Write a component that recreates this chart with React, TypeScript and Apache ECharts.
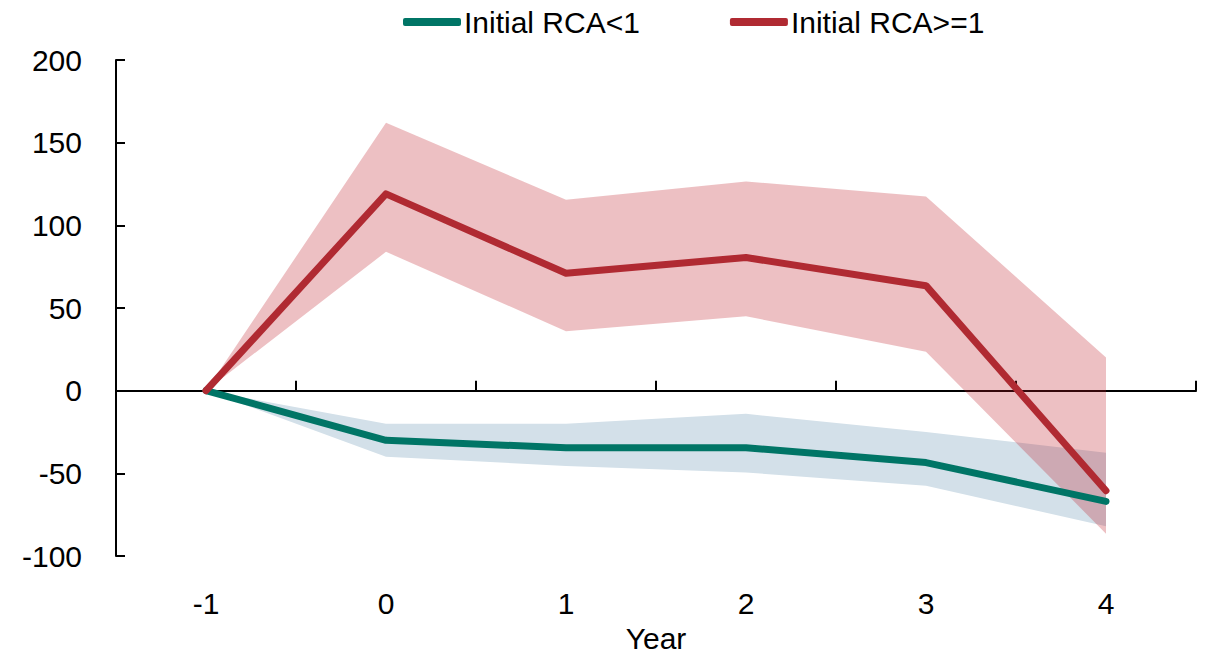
import React, { useEffect, useRef } from "react";
import * as echarts from "echarts";

const years = ["-1", "0", "1", "2", "3", "4"];
const yTicks = { min: -100, max: 200, interval: 50 };

const lowRcaLine = [0, -30, -34.5, -34.5, -43.5, -67];
const lowRcaUpper = [0, -20, -20, -14, -25, -37.5];
const lowRcaLower = [0, -40, -45.5, -49.5, -57.5, -82];

const highRcaLine = [0, 119, 71, 80.5, 63.5, -60.5];
const highRcaUpper = [0, 162, 115.5, 126.5, 117.5, 20];
const highRcaLower = [0, 84, 36, 45, 23.5, -86.5];

const seriesNames = ["Initial RCA<1", "Initial RCA>=1"];

const GREEN = "#007566";
const RED = "#B02A32";
const FONT = "'Liberation Sans', Arial, sans-serif";
const FS = 30;

export default function App() {
  const ref = useRef<HTMLDivElement>(null);
  useEffect(() => {
    if (!ref.current) return;
    const chart = echarts.init(ref.current, null, { renderer: "svg" });
    const diff = (u: number[], l: number[]) => u.map((v, i) => +(v - l[i]).toFixed(2));
    chart.setOption({
      animation: false,
      textStyle: { fontFamily: FONT },
      legend: {
        data: seriesNames,
        left: 403,
        top: 7,
        padding: 0,
        icon: "roundRect",
        itemWidth: 58,
        itemHeight: 8,
        itemGap: 90,
        textStyle: { fontSize: FS, color: "#000", fontFamily: FONT, padding: [0, 0, 0, -2] },
      },
      grid: { left: 116, right: 10, top: 60, bottom: 103, outerBoundsMode: "none", containLabel: false },
      xAxis: [
        {
          type: "category",
          data: years,
          boundaryGap: true,
          axisLine: { onZero: true, lineStyle: { color: "#000", width: 2 } },
          axisTick: { show: true, inside: true, length: 10, lineStyle: { color: "#000", width: 2 } },
          axisLabel: { show: false },
        },
        {
          type: "category",
          data: years,
          position: "bottom",
          boundaryGap: true,
          axisLine: { show: false, onZero: false },
          axisTick: { show: false },
          axisLabel: { fontSize: FS, color: "#000", margin: 32, fontFamily: FONT },
          name: "Year",
          nameLocation: "middle",
          nameGap: 67,
          nameTextStyle: { fontSize: FS, color: "#000", fontFamily: FONT },
        },
      ],
      yAxis: {
        type: "value",
        min: yTicks.min,
        max: yTicks.max,
        interval: yTicks.interval,
        axisLine: { show: true, lineStyle: { color: "#000", width: 2 } },
        axisTick: { show: true, inside: true, length: 9, lineStyle: { color: "#000", width: 2 } },
        axisLabel: { fontSize: FS, color: "#000", margin: 34, fontFamily: FONT },
        splitLine: { show: false },
      },
      series: [
        {
          name: "lowBase",
          type: "line",
          data: lowRcaLower,
          stack: "low",
          stackStrategy: "all",
          symbol: "none",
          lineStyle: { opacity: 0 },
          silent: true,
          z: 1,
        },
        {
          name: "lowBand",
          type: "line",
          data: diff(lowRcaUpper, lowRcaLower),
          stack: "low",
          stackStrategy: "all",
          symbol: "none",
          lineStyle: { opacity: 0 },
          areaStyle: { color: "#D3E0E9", opacity: 1 },
          silent: true,
          z: 1,
        },
        {
          name: "highBase",
          type: "line",
          data: highRcaLower,
          stack: "high",
          stackStrategy: "all",
          symbol: "none",
          lineStyle: { opacity: 0 },
          silent: true,
          z: 2,
        },
        {
          name: "highBand",
          type: "line",
          data: diff(highRcaUpper, highRcaLower),
          stack: "high",
          stackStrategy: "all",
          symbol: "none",
          lineStyle: { opacity: 0 },
          areaStyle: { color: "rgb(192,30,40)", opacity: 0.28 },
          silent: true,
          z: 2,
        },
        {
          name: seriesNames[0],
          type: "line",
          data: lowRcaLine,
          symbol: "none",
          itemStyle: { color: GREEN },
          lineStyle: { color: GREEN, width: 7, cap: "round", join: "round" },
          z: 3,
        },
        {
          name: seriesNames[1],
          type: "line",
          data: highRcaLine,
          symbol: "none",
          itemStyle: { color: RED },
          lineStyle: { color: RED, width: 7, cap: "round", join: "round" },
          z: 4,
        },
      ],
    });
    return () => chart.dispose();
  }, []);
  return <div ref={ref} style={{ width: 1206, height: 659, position: "absolute", left: 0, top: 0 }} />;
}
